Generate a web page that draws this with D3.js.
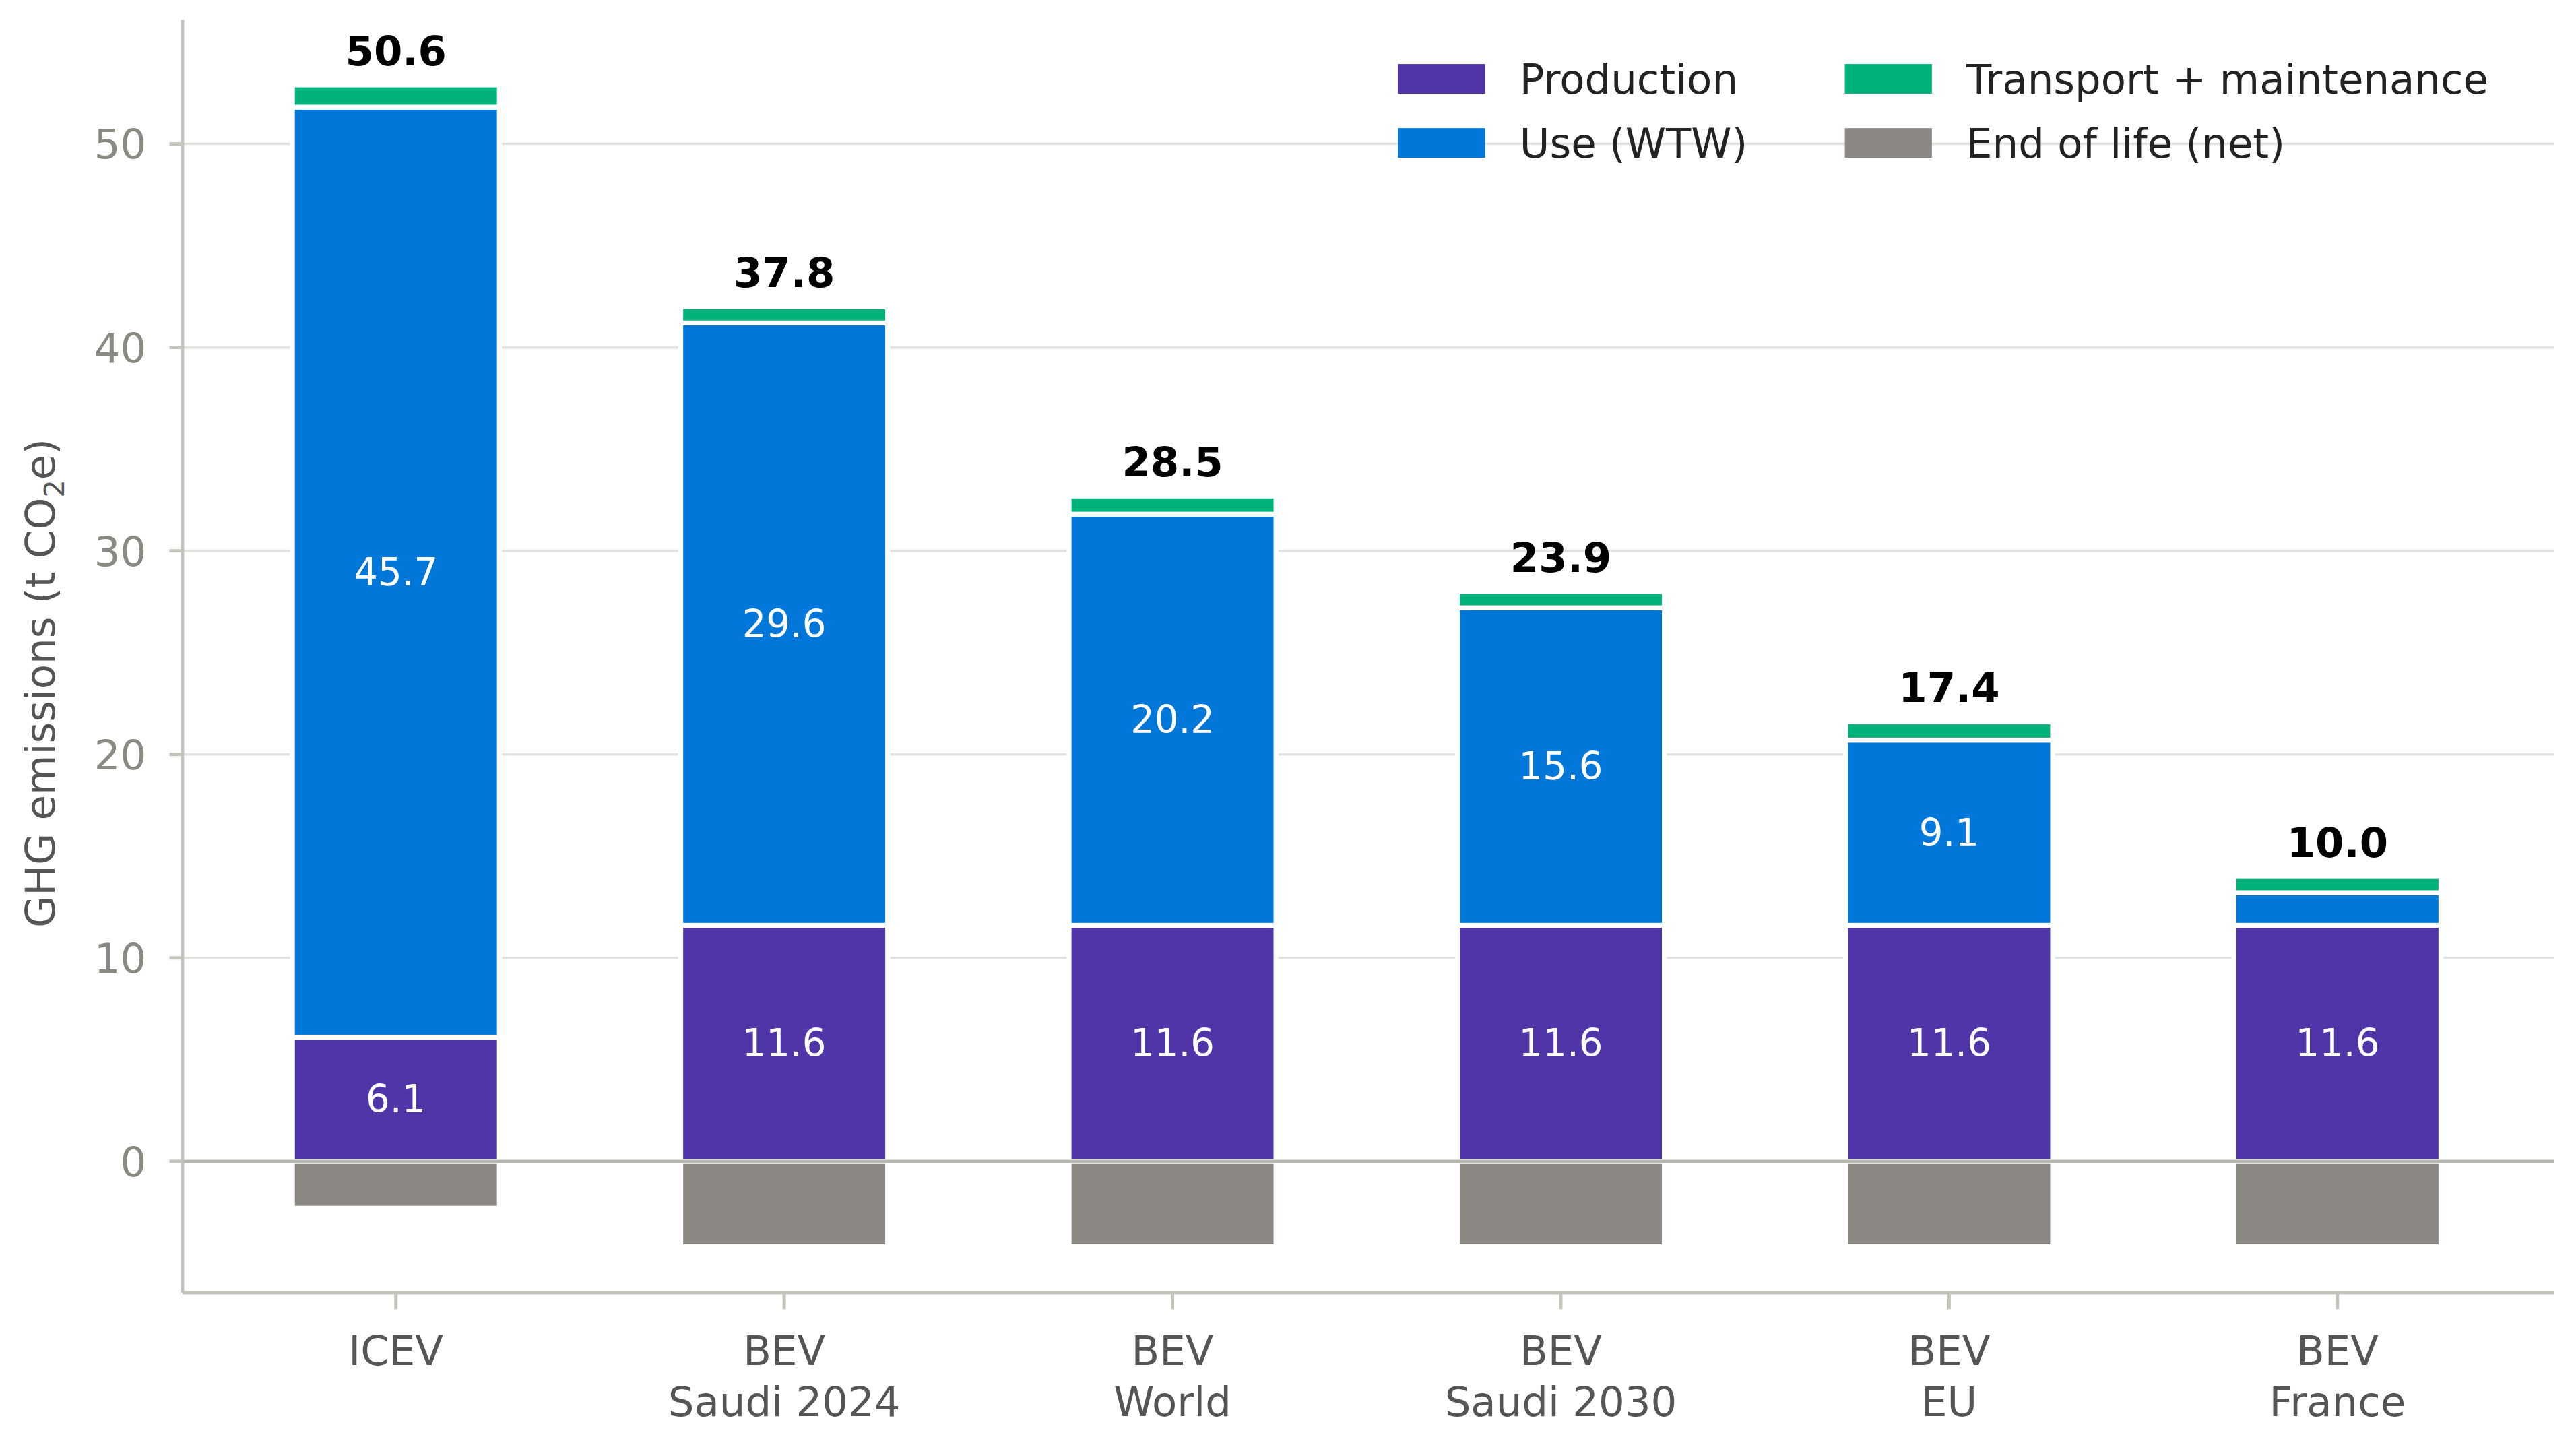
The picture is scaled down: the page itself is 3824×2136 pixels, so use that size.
<!DOCTYPE html>
<meta charset="utf-8">
<title>GHG emissions</title>
<style>
  body { margin: 0; background: #fff; }
  text { font-family: "DejaVu Sans", sans-serif; }
</style>
<div id="viz"></div>
<script src="https://cdnjs.cloudflare.com/ajax/libs/d3/7.8.5/d3.min.js"></script>
<script>

var categories = ["ICEV", "BEV\nSaudi 2024", "BEV\nWorld", "BEV\nSaudi 2030", "BEV\nEU", "BEV\nFrance"];
var production = [6.1, 11.6, 11.6, 11.6, 11.6, 11.6];
var useWTW = [45.7, 29.6, 20.2, 15.6, 9.1, 1.6];
var transport = [1.1, 0.8, 0.9, 0.8, 0.9, 0.8];
var endOfLife = [-2.3, -4.2, -4.2, -4.2, -4.2, -4.2];
var totals = ["50.6", "37.8", "28.5", "23.9", "17.4", "10.0"];
var yTicks = [0, 10, 20, 30, 40, 50];

var colors = { prod: "#4f35a8", use: "#0077d9", trans: "#00b27a", eol: "#8a8782" };

// drawn in a 1568x876 coordinate space, scaled up to the window
var W = 1568, H = 876;
var svg = d3.select("#viz").append("svg")
  .attr("width", 3824).attr("height", 2136)
  .attr("viewBox", "0 0 " + W + " " + H);

var mLeft = 111, mRight = 1555, mTop = 12, mBottom = 787;
var y = d3.scaleLinear().domain([-6.46, 56.1]).range([mBottom, mTop]);
var x = d3.scaleBand().domain(d3.range(categories.length)).range([122.8, 1541]).paddingInner(0.467).paddingOuter(0.233);

// grid
svg.append("g").selectAll("line").data(yTicks.filter(function(d) { return d != 0; })).join("line")
  .attr("x1", mLeft).attr("x2", mRight)
  .attr("y1", function(d) { return y(d); }).attr("y2", function(d) { return y(d); })
  .attr("stroke", "#e2e2de").attr("stroke-width", 1.5);

// bars
var bw = x.bandwidth();
function seg(vals, base, color) {
  svg.append("g").selectAll("rect").data(vals).join("rect")
    .attr("x", function(d, i) { return x(i); })
    .attr("width", bw)
    .attr("y", function(d, i) { var b = base ? base[i] : 0; return y(Math.max(b, b + d)); })
    .attr("height", function(d) { return Math.abs(y(0) - y(d)); })
    .attr("fill", color).attr("stroke", "#fff").attr("stroke-width", 3);
}
var base2 = production;
var base3 = production.map(function(d, i) { return d + useWTW[i]; });
seg(endOfLife, null, colors.eol);
seg(production, null, colors.prod);
seg(useWTW, base2, colors.use);
seg(transport, base3, colors.trans);

// zero line
svg.append("line").attr("x1", mLeft).attr("x2", mRight).attr("y1", y(0)).attr("y2", y(0))
  .attr("stroke", "#b8b8b2").attr("stroke-width", 2);

// in-bar labels
svg.append("g").selectAll("text").data(production).join("text")
  .attr("x", function(d, i) { return x(i) + bw / 2; })
  .attr("y", function(d) { return y(d / 2) + 8; })
  .attr("text-anchor", "middle").attr("fill", "#fff").attr("font-size", 23)
  .text(function(d) { return d.toFixed(1); });
svg.append("g").selectAll("text").data(useWTW.filter(function(d) { return d > 3; })).join("text")
  .attr("x", function(d, i) { return x(i) + bw / 2; })
  .attr("y", function(d, i) { return y(base2[i] + d / 2) + 8; })
  .attr("text-anchor", "middle").attr("fill", "#fff").attr("font-size", 23)
  .text(function(d) { return d.toFixed(1); });

// totals
svg.append("g").selectAll("text").data(totals).join("text")
  .attr("x", function(d, i) { return x(i) + bw / 2; })
  .attr("y", function(d, i) { return y(base3[i] + transport[i]) - 12; })
  .attr("text-anchor", "middle").attr("fill", "#000").attr("font-size", 25).attr("font-weight", "bold")
  .text(function(d) { return d; });

// axes
svg.append("line").attr("x1", mLeft).attr("x2", mLeft).attr("y1", mTop).attr("y2", mBottom)
  .attr("stroke", "#c4c4bc").attr("stroke-width", 2);
svg.append("line").attr("x1", mLeft).attr("x2", mRight).attr("y1", mBottom).attr("y2", mBottom)
  .attr("stroke", "#c4c4bc").attr("stroke-width", 2);

var yt = svg.append("g").selectAll("g").data(yTicks).join("g");
yt.append("line").attr("x1", mLeft - 8).attr("x2", mLeft)
  .attr("y1", function(d) { return y(d); }).attr("y2", function(d) { return y(d); })
  .attr("stroke", "#c4c4bc").attr("stroke-width", 2);
yt.append("text").attr("x", mLeft - 22).attr("y", function(d) { return y(d) + 9; })
  .attr("text-anchor", "end").attr("fill", "#8a8a82").attr("font-size", 25)
  .text(function(d) { return d; });

var xt = svg.append("g").selectAll("g").data(categories).join("g");
xt.append("line").attr("x1", function(d, i) { return x(i) + bw / 2; }).attr("x2", function(d, i) { return x(i) + bw / 2; })
  .attr("y1", mBottom).attr("y2", mBottom + 10).attr("stroke", "#c4c4bc").attr("stroke-width", 2);
xt.each(function(d, i) {
  var t = d3.select(this).append("text").attr("text-anchor", "middle").attr("fill", "#555").attr("font-size", 25);
  d.split("\n").forEach(function(line, k) {
    t.append("tspan").attr("x", x(i) + bw / 2).attr("y", 831 + k * 31).text(line);
  });
});

// y label
var yl = svg.append("text").attr("transform", "translate(33," + y(23.5) + ") rotate(-90)")
  .attr("text-anchor", "middle").attr("fill", "#555").attr("font-size", 25);
yl.append("tspan").text("GHG emissions (t CO");
yl.append("tspan").attr("font-size", 17).attr("dy", 6).text("2");
yl.append("tspan").attr("dy", -6).text("e)");

// legend
var legend = [
  { name: "Production", c: colors.prod, x: 851, y: 48 },
  { name: "Use (WTW)", c: colors.use, x: 851, y: 87 },
  { name: "Transport + maintenance", c: colors.trans, x: 1123, y: 48 },
  { name: "End of life (net)", c: colors.eol, x: 1123, y: 87 }
];
var lg = svg.append("g").selectAll("g").data(legend).join("g");
lg.append("rect").attr("x", function(d) { return d.x; }).attr("y", function(d) { return d.y - 9; })
  .attr("width", 53).attr("height", 18).attr("fill", function(d) { return d.c; });
lg.append("text").attr("x", function(d) { return d.x + 74; }).attr("y", function(d) { return d.y + 9; })
  .attr("fill", "#222").attr("font-size", 25).text(function(d) { return d.name; });

</script>
